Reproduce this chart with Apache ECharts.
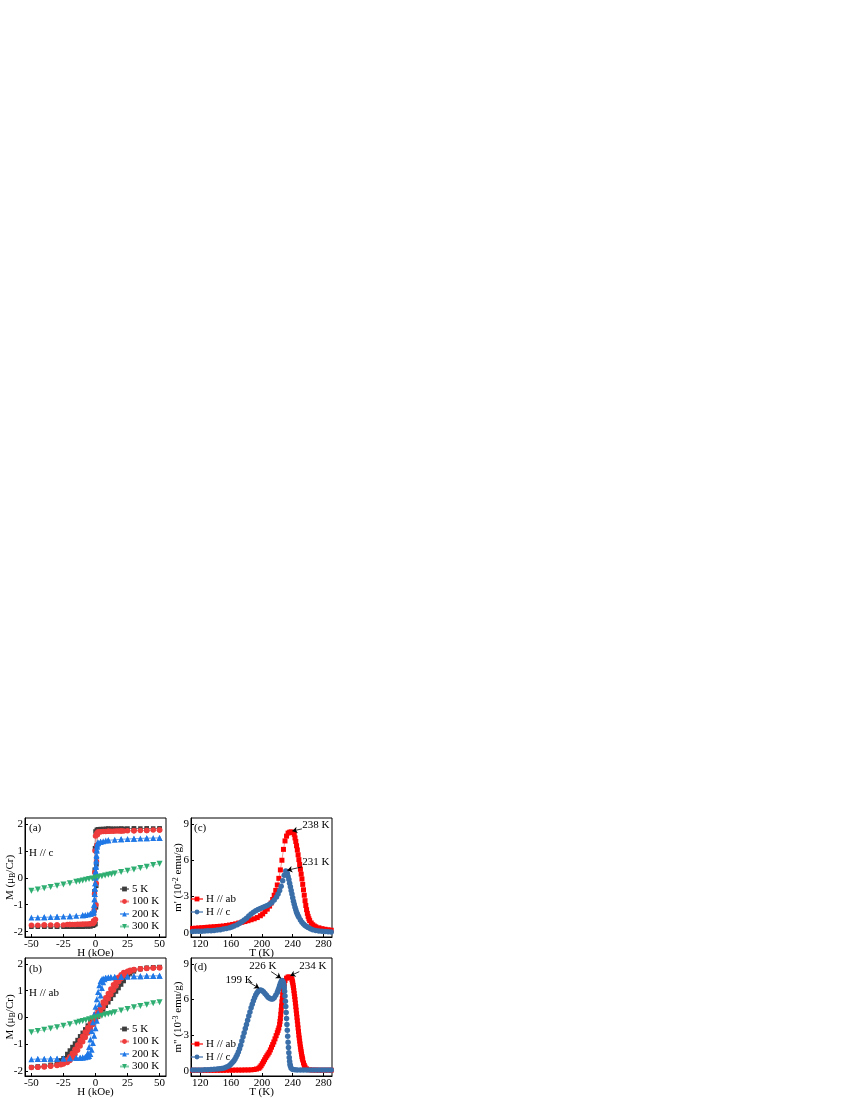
<!DOCTYPE html>
<html><head><meta charset="utf-8">
<script src="https://cdn.jsdelivr.net/npm/echarts@6/dist/echarts.min.js"></script>
<style>html,body{margin:0;padding:0;background:#fff}#c{width:850px;height:1100px}</style>
</head><body><div id="c"></div>
<script>
const FONT = 'Liberation Serif';
const hTicks = [-50, -25, 0, 25, 50];
const mTicks = [-2, -1, 0, 1, 2];
const tTicks = [120, 160, 200, 240, 280];
const mpTicks = [0, 3, 6, 9];
const legendAB = ['5 K', '100 K', '200 K', '300 K'];
const legendCD = ['H // ab', 'H // c'];

// (a) H // c : [H (kOe), M (muB/Cr)]
const a5K = [[50,1.83],[45,1.83],[40,1.83],[35,1.83],[30,1.83],[25,1.83],[22,1.82],[20,1.82],[18,1.82],[16,1.82],[14,1.82],[12,1.82],[10,1.82],[8,1.82],[6,1.81],[4,1.81],[2,1.8],[1,1.78],[0,1.72],[-0.4,1.1],[-0.6,0.3],[-0.8,-0.5],[-1,-1.2],[-1.5,-1.65],[-2,-1.78],[-4,-1.8],[-6,-1.81],[-8,-1.81],[-10,-1.82],[-12,-1.82],[-14,-1.82],[-16,-1.82],[-18,-1.82],[-20,-1.82],[-22,-1.82],[-25,-1.82],[-30,-1.82],[-35,-1.82],[-40,-1.82],[-45,-1.82],[-50,-1.82],
  [-40,-1.82],[-30,-1.82],[-20,-1.82],[-10,-1.81],[-4,-1.8],[-2,-1.78],[-1,-1.75],[0,-1.72],[0.4,-1.1],[0.6,-0.3],[0.8,0.5],[1,1.2],[1.5,1.65],[2,1.78],[4,1.8],[10,1.82],[20,1.82],[30,1.83],[40,1.83],[50,1.83]];
const a100K = [[50,1.77],[45,1.77],[40,1.76],[35,1.76],[30,1.75],[25,1.75],[22,1.74],[20,1.74],[18,1.74],[16,1.74],[14,1.73],[12,1.73],[10,1.73],[8,1.72],[6,1.72],[4,1.71],[2,1.7],[1,1.65],[0,1.55],[-0.4,1.0],[-0.6,0.2],[-0.8,-0.6],[-1,-1.2],[-1.5,-1.6],[-2,-1.7],[-4,-1.71],[-6,-1.72],[-8,-1.72],[-10,-1.73],[-12,-1.73],[-14,-1.73],[-16,-1.74],[-18,-1.74],[-20,-1.74],[-22,-1.74],[-25,-1.75],[-30,-1.75],[-35,-1.75],[-40,-1.75],[-45,-1.76],[-50,-1.76],
  [-40,-1.75],[-30,-1.75],[-20,-1.74],[-10,-1.73],[-4,-1.71],[-2,-1.7],[-1,-1.65],[0,-1.55],[0.4,-1.0],[0.6,-0.2],[0.8,0.6],[1,1.2],[1.5,1.6],[2,1.7],[4,1.71],[10,1.73],[20,1.74],[30,1.75],[40,1.76],[50,1.77]];
const a200K = [[50,1.48],[45,1.475],[40,1.47],[35,1.46],[30,1.45],[25,1.44],[20,1.43],[15,1.41],[10,1.39],[8,1.38],[6,1.36],[4,1.34],[2,1.3],[1.5,1.27],[1.2,1.15],[1,1.0],[0.8,0.8],[0.6,0.6],[0.4,0.4],[0.2,0.2],[0,0.0],[-0.2,-0.2],[-0.4,-0.4],[-0.6,-0.6],[-0.8,-0.8],[-1,-1.0],[-1.3,-1.2],[-1.6,-1.28],[-2,-1.3],[-4,-1.34],[-6,-1.36],[-8,-1.38],[-10,-1.39],[-15,-1.41],[-20,-1.43],[-25,-1.44],[-30,-1.45],[-35,-1.46],[-40,-1.47],[-45,-1.475],[-50,-1.48],
  [-40,-1.47],[-30,-1.45],[-20,-1.43],[-10,-1.39],[-4,-1.34],[-2,-1.3],[-1.5,-1.27],[-1.2,-1.15],[-1,-1.0],[-0.8,-0.8],[-0.6,-0.6],[-0.4,-0.4],[-0.2,-0.2],[0,0.05],[0.2,0.25],[0.4,0.45],[0.6,0.65],[0.8,0.85],[1,1.05],[1.3,1.2],[1.6,1.28],[2,1.3],[4,1.34],[10,1.39],[20,1.43],[30,1.45],[40,1.47],[50,1.48]];
const a300K = [[-50,-0.48],[-45,-0.44],[-40,-0.39],[-35,-0.34],[-30,-0.3],[-25,-0.25],[-20,-0.2],[-15,-0.15],[-12.5,-0.125],[-10,-0.1],[-7.5,-0.075],[-5,-0.05],[-2.5,-0.025],[0,0],[2.5,0.03],[5,0.055],[7.5,0.08],[10,0.11],[12.5,0.135],[15,0.16],[20,0.21],[25,0.26],[30,0.31],[35,0.36],[40,0.41],[45,0.47],[50,0.52]];

// (b) H // ab
const b5K = [[50,1.88],[45,1.87],[40,1.85],[35,1.83],[30,1.78],[27,1.72],[25,1.66],[22,1.53],[20,1.42],[18,1.3],[16,1.17],[14,1.04],[12,0.9],[10,0.77],[8,0.64],[6,0.5],[4,0.37],[2,0.23],[0,0.1],[-2,-0.03],[-4,-0.17],[-6,-0.3],[-8,-0.44],[-10,-0.57],[-12,-0.7],[-14,-0.84],[-16,-0.97],[-18,-1.1],[-20,-1.23],[-22,-1.36],[-25,-1.52],[-27,-1.6],[-30,-1.68],[-35,-1.76],[-40,-1.8],[-45,-1.83],[-50,-1.85],
  [-45,-1.84],[-40,-1.82],[-35,-1.79],[-30,-1.74],[-27,-1.68],[-25,-1.62],[-22,-1.5],[-20,-1.4],[-18,-1.28],[-16,-1.15],[-14,-1.02],[-12,-0.9],[-10,-0.77],[-8,-0.64],[-6,-0.5],[-4,-0.37],[-2,-0.23],[0,-0.1],[2,0.03],[4,0.17],[6,0.3],[8,0.44],[10,0.57],[12,0.7],[14,0.84],[16,0.97],[18,1.1],[20,1.23],[22,1.36],[25,1.55],[27,1.64],[30,1.72],[35,1.8],[40,1.85],[45,1.87],[50,1.88]];
const b100K = [[50,1.86],[45,1.85],[40,1.84],[35,1.82],[30,1.79],[27,1.76],[25,1.73],[22,1.68],[20,1.6],[18,1.5],[16,1.37],[14,1.22],[12,1.06],[10,0.9],[8,0.74],[6,0.58],[4,0.42],[2,0.26],[0,0.1],[-2,-0.06],[-4,-0.22],[-6,-0.38],[-8,-0.54],[-10,-0.7],[-12,-0.86],[-14,-1.02],[-16,-1.18],[-18,-1.33],[-20,-1.46],[-22,-1.57],[-25,-1.67],[-27,-1.72],[-30,-1.77],[-35,-1.81],[-40,-1.83],[-45,-1.85],[-50,-1.86],
  [-45,-1.85],[-40,-1.84],[-35,-1.82],[-30,-1.79],[-27,-1.76],[-25,-1.73],[-22,-1.68],[-20,-1.6],[-18,-1.5],[-16,-1.37],[-14,-1.22],[-12,-1.06],[-10,-0.9],[-8,-0.74],[-6,-0.58],[-4,-0.42],[-2,-0.26],[0,-0.1],[2,0.06],[4,0.22],[6,0.38],[8,0.54],[10,0.7],[12,0.86],[14,1.02],[16,1.18],[18,1.33],[20,1.46],[22,1.57],[25,1.67],[27,1.72],[30,1.77],[35,1.81],[40,1.83],[45,1.85],[50,1.86]];
const b200K = [[50,1.56],[45,1.55],[40,1.55],[35,1.54],[30,1.54],[25,1.53],[20,1.52],[15,1.51],[12,1.5],[10,1.49],[8,1.48],[6,1.46],[5,1.43],[4,1.36],[3,1.2],[2,0.95],[1,0.68],[0,0.4],[-1,0.12],[-2,-0.18],[-3,-0.5],[-4,-0.82],[-5,-1.1],[-6,-1.32],[-7,-1.43],[-8,-1.47],[-10,-1.49],[-12,-1.5],[-15,-1.51],[-20,-1.52],[-25,-1.53],[-30,-1.54],[-35,-1.54],[-40,-1.55],[-45,-1.55],[-50,-1.56],
  [-45,-1.55],[-40,-1.55],[-35,-1.54],[-30,-1.54],[-25,-1.53],[-20,-1.52],[-15,-1.51],[-12,-1.5],[-10,-1.49],[-8,-1.48],[-6,-1.46],[-5,-1.43],[-4,-1.36],[-3,-1.2],[-2,-0.95],[-1,-0.68],[0,-0.4],[1,-0.12],[2,0.18],[3,0.5],[4,0.82],[5,1.1],[6,1.32],[7,1.43],[8,1.47],[10,1.49],[12,1.5],[15,1.51],[20,1.52],[25,1.53],[30,1.54],[35,1.54],[40,1.55],[45,1.55],[50,1.56]];
const b300K = [[-50,-0.55],[-45,-0.5],[-40,-0.46],[-35,-0.41],[-30,-0.36],[-25,-0.31],[-20,-0.25],[-15,-0.19],[-12.5,-0.16],[-10,-0.13],[-7.5,-0.1],[-5,-0.065],[-2.5,-0.03],[0,0],[2.5,0.03],[5,0.065],[7.5,0.1],[10,0.13],[12.5,0.16],[15,0.2],[20,0.26],[25,0.32],[30,0.38],[35,0.43],[40,0.48],[45,0.53],[50,0.57]];

// (c) m' (10^-2 emu/g) vs T (K)
const cAb = [[110,0.35],[114,0.37],[118,0.39],[122,0.41],[126,0.43],[130,0.45],[134,0.47],[138,0.49],[142,0.51],[146,0.53],[150,0.55],[154,0.59],[158,0.63],[162,0.68],[166,0.73],[170,0.8],[174,0.86],[178,0.92],[182,0.99],[186,1.07],[190,1.15],[194,1.25],[198,1.4],[201,1.55],[204,1.75],[207,1.95],[210,2.2],[212,2.45],[214,2.75],[216,3.1],[218,3.5],[220,3.95],[222,4.5],[224,5.2],[226,6.0],[228,6.9],[230,7.6],[232,8.0],[234,8.25],[236,8.32],[238,8.35],[240,8.3],[242,8.15],[243,7.85],[244,7.55],[245,7.2],[246,6.85],[247,6.45],[248,6.05],[249,5.65],[250,5.25],[251,4.85],[252,4.45],[253,4.0],[254,3.55],[255,3.1],[256,2.65],[257,2.25],[258,1.9],[259,1.6],[260,1.35],[261,1.15],[262,1.0],[264,0.8],[266,0.65],[268,0.55],[270,0.48],[274,0.4],[278,0.33],[282,0.28],[286,0.24],[290,0.2]];
const cC = [[110,0.1],[114,0.11],[118,0.12],[122,0.12],[126,0.13],[130,0.15],[134,0.16],[138,0.18],[142,0.21],[146,0.25],[150,0.3],[154,0.35],[158,0.41],[161,0.47],[164,0.55],[168,0.65],[171,0.78],[174,0.9],[177,1.05],[180,1.2],[183,1.38],[186,1.55],[189,1.7],[192,1.82],[195,1.92],[198,2.0],[201,2.08],[204,2.16],[207,2.25],[210,2.35],[213,2.5],[216,2.7],[219,2.95],[221,3.2],[223,3.5],[225,3.85],[227,4.3],[229,4.75],[231,5.1],[232,5.05],[233,4.9],[234,4.65],[235,4.4],[236,4.1],[237,3.8],[238,3.5],[239,3.2],[240,2.9],[241,2.6],[242,2.35],[243,2.1],[244,1.9],[245,1.7],[246,1.55],[247,1.4],[248,1.27],[250,1.05],[252,0.87],[254,0.72],[256,0.6],[258,0.5],[260,0.42],[263,0.32],[266,0.25],[270,0.18],[274,0.14],[278,0.11],[282,0.09],[286,0.07],[290,0.06]];

// (d) m'' (10^-3 emu/g) vs T (K)
const dAb = [[110,0.03],[114,0.03],[118,0.03],[122,0.03],[126,0.03],[130,0.03],[134,0.03],[138,0.03],[142,0.03],[146,0.03],[150,0.03],[154,0.04],[158,0.04],[162,0.04],[166,0.05],[170,0.05],[174,0.05],[178,0.06],[182,0.06],[186,0.07],[190,0.1],[193,0.14],[196,0.2],[197.5,0.3],[199,0.42],[200.5,0.58],[202,0.75],[203.5,0.92],[205,1.1],[206.5,1.25],[208,1.4],[209.5,1.55],[211,1.75],[212.5,1.98],[214,2.2],[215.5,2.42],[217,2.68],[218.5,2.95],[220,3.2],[221,3.4],[222,3.6],[223,3.9],[223.5,4.15],[224,4.4],[224.5,4.75],[225,5.1],[225.5,5.45],[226,5.8],[226.5,6.1],[227,6.4],[227.5,6.65],[228,6.9],[228.5,7.1],[229,7.3],[230,7.6],[232,7.8],[234,7.9],[236,7.9],[238,7.85],[239,7.7],[239.5,7.55],[240,7.4],[240.5,7.2],[241,7.0],[241.5,6.75],[242,6.5],[242.5,6.25],[243,6.0],[243.5,5.7],[244,5.4],[244.5,5.1],[245,4.8],[245.5,4.5],[246,4.2],[246.5,3.9],[247,3.6],[247.5,3.3],[248,3.0],[248.5,2.75],[249,2.5],[249.5,2.25],[250,2.0],[250.5,1.8],[251,1.6],[251.5,1.4],[252,1.2],[252.5,1.05],[253,0.9],[254,0.65],[255,0.45],[256,0.3],[258,0.15],[262,0.07],[266,0.05],[270,0.05],[274,0.04],[278,0.04],[282,0.04],[286,0.04],[290,0.04]];
const dC = [[110,0.05],[114,0.05],[118,0.06],[122,0.06],[126,0.07],[130,0.08],[134,0.09],[138,0.11],[142,0.13],[145,0.16],[148,0.19],[151,0.23],[154,0.3],[157,0.4],[159,0.5],[160.5,0.6],[162,0.7],[163.5,0.82],[165,0.97],[166.5,1.15],[168,1.35],[169.5,1.58],[171,1.85],[172.5,2.15],[174,2.5],[175.5,2.85],[177,3.2],[178.5,3.55],[180,3.9],[181.5,4.25],[183,4.6],[184.5,4.95],[186,5.3],[187.5,5.6],[189,5.9],[190.5,6.15],[192,6.38],[193.5,6.55],[195,6.68],[196.5,6.76],[198,6.8],[200,6.76],[202,6.65],[204,6.5],[206,6.35],[208,6.2],[210,6.1],[212,6.05],[214,6.05],[216,6.15],[218,6.35],[220,6.6],[221,6.78],[222,6.95],[223,7.15],[224,7.35],[225,7.5],[226,7.6],[227,7.55],[228,7.4],[228.5,7.2],[229,7.0],[229.5,6.7],[230,6.3],[230.5,5.85],[231,5.4],[231.5,4.9],[232,4.4],[232.5,3.9],[233,3.4],[233.5,2.9],[234,2.4],[234.5,1.95],[235,1.5],[235.5,1.1],[236,0.8],[236.5,0.55],[237,0.4],[238,0.2],[240,0.1],[243,0.07],[246,0.06],[250,0.05],[254,0.05],[258,0.05],[262,0.05],[266,0.05],[270,0.05],[274,0.05],[278,0.05],[282,0.05],[286,0.05],[290,0.05]];

// annotations (data coordinates)
const annC = [{text:'238 K', at:[252.5, 8.9], align:'left'}, {text:'231 K', at:[252.5, 5.88], align:'left'}];
const arrowsC = [[[252, 8.6], [239.5, 8.42]], [[252, 5.45], [233, 5.17]]];
const annD = [{text:'226 K', at:[219, 8.78], align:'right'}, {text:'234 K', at:[248.6, 8.78], align:'left'}, {text:'199 K', at:[188, 7.65], align:'right'}];
const arrowsD = [[[212, 8.35], [224.8, 7.8]], [[248.5, 8.35], [237, 8.0]], [[182, 7.5], [196.5, 6.95]]];

const C_GRAY = '#3d3d3d', C_RED = '#ee3b3b', C_BLUE = '#1f78e6', C_GREEN = '#2fae72';
const C_RED2 = '#ff0000', C_BLUE2 = '#3a6ea8';

const grids = [
  {left:25, top:818, width:141, height:119},
  {left:25, top:958, width:141, height:118},
  {left:191, top:818, width:141, height:119},
  {left:191, top:958, width:141, height:118}
].map(g => Object.assign(g, {show:true, borderColor:'#000', borderWidth:1, backgroundColor:'transparent', containLabel:false}));

const txt = {fontFamily: FONT, fontSize: 11, color: '#000'};
function axisBase(gi, min, max, ticks) {
  return {
    type:'value', gridIndex:gi, min, max,
    axisLine:{show:true, onZero:false, lineStyle:{color:'#000', width:1}},
    axisTick:{show:true, inside:true, length:3, customValues:ticks, lineStyle:{color:'#000', width:1}},
    axisLabel:Object.assign({customValues:ticks, margin:2}, txt),
    splitLine:{show:false}
  };
}
function xAx(gi, min, max, ticks, name) {
  return Object.assign(axisBase(gi, min, max, ticks), {name, nameLocation:'middle', nameGap:10.5, nameMoveOverlap:false, nameTextStyle:Object.assign({}, txt)});
}
function yAx(gi, min, max, ticks, name, gap, rich) {
  return Object.assign(axisBase(gi, min, max, ticks), {name, nameLocation:'middle', nameGap:gap, nameMoveOverlap:false, nameTextStyle:Object.assign({rich}, txt)});
}
const subRich = {s:{fontFamily:FONT, fontSize:8, color:'#000', verticalAlign:'bottom', lineHeight:13}};
const supRich = {p:{fontFamily:FONT, fontSize:8, color:'#000', verticalAlign:'top', lineHeight:13}};

const xAxis = [
  xAx(0, -55, 55, hTicks, 'H (kOe)'),
  xAx(1, -55, 55, hTicks, 'H (kOe)'),
  xAx(2, 108, 291, tTicks, 'T (K)'),
  xAx(3, 108, 291, tTicks, 'T (K)')
];
const yAxis = [
  yAx(0, -2.2, 2.22, mTicks, 'M (μ{s|B}/Cr)', 8.5, subRich),
  yAx(1, -2.18, 2.22, mTicks, 'M (μ{s|B}/Cr)', 8.5, subRich),
  yAx(2, -0.36, 9.5, mpTicks, "m' (10{p|-2} emu/g)", 6.5, supRich),
  yAx(3, -0.45, 9.5, mpTicks, 'm" (10{p|-3} emu/g)', 6.5, supRich)
];

function ser(name, data, gi, symbol, size, color, extra) {
  return Object.assign({
    type:'line', name, data, xAxisIndex:gi, yAxisIndex:gi,
    symbol, symbolSize:size, showSymbol:true, showAllSymbol:true,
    itemStyle:{color}, lineStyle:{color, width:0.7, opacity:0.6},
    emphasis:{disabled:true}, animation:false, z:2
  }, extra || {});
}
function arrowMark(list) {
  return {
    silent:true, animation:false, symbol:['none','arrow'], symbolSize:5,
    lineStyle:{color:'#000', width:0.8, type:'solid', opacity:1},
    label:{show:false}, emphasis:{disabled:true},
    data:list.map(a => [{coord:a[0]}, {coord:a[1]}])
  };
}
const downTri = {symbolRotate:180};

const series = [
  ser('5 K', a5K, 0, 'rect', 4.5, C_GRAY),
  ser('100 K', a100K, 0, 'circle', 5.5, C_RED),
  ser('200 K', a200K, 0, 'triangle', 6, C_BLUE),
  ser('300 K', a300K, 0, 'triangle', 6, C_GREEN, downTri),
  ser('5 K', b5K, 1, 'rect', 4.5, C_GRAY),
  ser('100 K', b100K, 1, 'circle', 5.5, C_RED),
  ser('200 K', b200K, 1, 'triangle', 6, C_BLUE),
  ser('300 K', b300K, 1, 'triangle', 6, C_GREEN, downTri),
  ser('H // ab', cAb, 2, 'rect', 5, C_RED2),
  ser('H // c', cC, 2, 'circle', 5.5, C_BLUE2, {markLine: arrowMark(arrowsC)}),
  ser('H // ab', dAb, 3, 'rect', 5, C_RED2),
  ser('H // c', dC, 3, 'circle', 5.5, C_BLUE2, {markLine: arrowMark(arrowsD)})
];

function leg(data, left, top, lh, iw) {
  return {
    data, left, top, orient:'vertical', itemGap:0, itemWidth:iw, itemHeight:6,
    selectedMode:false, padding:0,
    textStyle:Object.assign({lineHeight:lh, padding:[0,0,0,-2]}, txt)
  };
}
const legend = [
  leg(legendAB, 119, 882.75, 12.5, 9),
  leg(legendAB, 119, 1022.75, 12.5, 9),
  leg(legendCD, 190, 892.5, 13, 12),
  leg(legendCD, 190, 1037.5, 13, 12)
];

const chart = echarts.init(document.getElementById('c'), null, {renderer:'canvas'});
chart.setOption({animation:false, backgroundColor:'#fff', textStyle:{fontFamily:FONT}, grid:grids, xAxis, yAxis, legend, series});

function gtext(text, x, y, align) {
  return {type:'text', silent:true, z:10, style:{text, x, y, fill:'#000', fontFamily:FONT, fontSize:11, align:align||'left', verticalAlign:'middle'}};
}
const g = [
  gtext('(a)', 29, 828), gtext('H // c', 29, 853),
  gtext('(b)', 29, 969), gtext('H // ab', 29, 993),
  gtext('(c)', 194, 828), gtext('(d)', 194, 967)
];
annC.forEach(a => { const p = chart.convertToPixel({xAxisIndex:2, yAxisIndex:2}, a.at); g.push(gtext(a.text, p[0], p[1], a.align)); });
annD.forEach(a => { const p = chart.convertToPixel({xAxisIndex:3, yAxisIndex:3}, a.at); g.push(gtext(a.text, p[0], p[1], a.align)); });
chart.setOption({graphic:g});
</script>
</body></html>
